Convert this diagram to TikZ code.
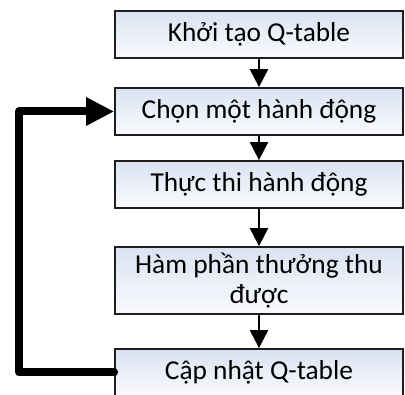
\documentclass[tikz,border=0pt]{standalone}
\usepackage{fontspec}
\setmainfont{Carlito}
\usetikzlibrary{arrows.meta,calc}
\definecolor{boxtop}{RGB}{218,226,241}
\definecolor{boxbot}{RGB}{250,251,254}
\definecolor{boxline}{RGB}{30,30,30}
\begin{document}
\begin{tikzpicture}[x=0.75pt,y=-0.75pt,
  stepbox/.style={draw=boxline,line width=1.3pt,top color=boxtop,bottom color=boxbot,
    minimum width=216pt,align=center,font=\fontsize{20.5}{22.5}\selectfont,inner sep=0pt},
  flow/.style={line width=1.5pt,-{Triangle[length=13.5pt,width=13.5pt]}},
  loop/.style={line width=6pt,line join=round,line cap=round,-{Triangle[length=21pt,width=20pt]}}]
\useasboundingbox (0,0) rectangle (405,395);
\node[stepbox,minimum height=35.25pt] (a) at (259,34.5) {Khởi tạo Q-table};
\node[stepbox,minimum height=35.25pt] (b) at (259,111.5) {Chọn một hành động};
\node[stepbox,minimum height=35.25pt] (c) at (259,184.5) {Thực thi hành động};
\node[stepbox,minimum height=50.25pt] (d) at (259,280.5) {Hàm phần thưởng thu\\được};
\node[stepbox,minimum height=35.25pt] (e) at (259,372.5) {Cập nhật Q-table};
\draw[flow] (a) -- (b);
\draw[flow] (b) -- (c);
\draw[flow] (c) -- (d);
\draw[flow] (d) -- (e);
\coordinate (l1) at (19,372.5);
\coordinate (l2) at (19,111.5);
\draw[loop] (e.west) -- (l1) -- (l2) -- (b.west);
\end{tikzpicture}
\end{document}
